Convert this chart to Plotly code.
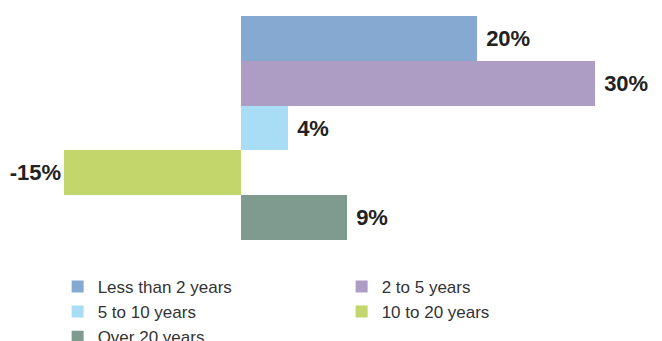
import plotly.graph_objects as go

categories = ["Less than 2 years", "2 to 5 years", "5 to 10 years", "10 to 20 years", "Over 20 years"]
values = [20, 30, 4, -15, 9]
labels = ["20%", "30%", "4%", "-15%", "9%"]
colors = ["#86A9D2", "#AD9CC3", "#A9DDF6", "#C2D66C", "#7F9A8E"]

fig = go.Figure()
for cat, v, lab, c in zip(categories, values, labels, colors):
    txt = ("<b>" + lab + "</b>") if v < 0 else (" <b>" + lab + "</b>")
    fig.add_trace(go.Bar(
        y=[cat], x=[v], orientation="h", name=cat,
        marker=dict(color=c, line=dict(width=0)),
        text=[txt], textposition="outside", cliponaxis=False,
        textfont=dict(family="Liberation Sans, Arial", size=22, color="#222222"),
    ))

fig.update_layout(
    width=654, height=333,
    margin=dict(l=0, r=0, t=8, b=101, autoexpand=False),
    paper_bgcolor="white", plot_bgcolor="white",
    barmode="overlay", bargap=0,
    showlegend=True,
    xaxis=dict(range=[-19.75, 35.68], visible=False, showgrid=False, zeroline=False),
    yaxis=dict(categoryorder="array", categoryarray=categories, autorange="reversed",
               visible=False, showgrid=False),
    legend=dict(orientation="h", x=0.0759, xanchor="left", y=-0.129, yanchor="top",
                entrywidth=239, entrywidthmode="pixels", traceorder="normal",
                font=dict(family="Liberation Sans, Arial", size=17, color="#333333"),
                itemclick=False, tracegroupgap=0, bgcolor="rgba(0,0,0,0)"),
)
fig.write_html("out.html")
